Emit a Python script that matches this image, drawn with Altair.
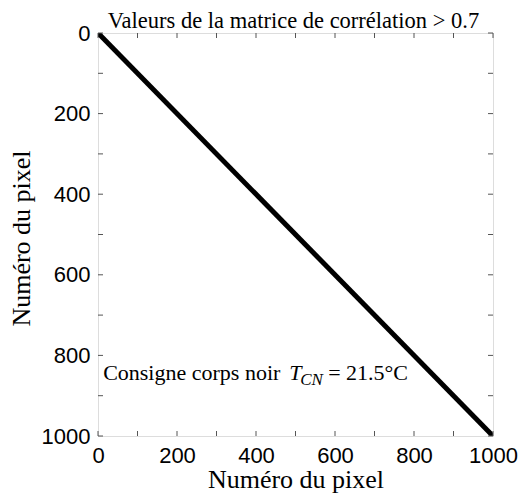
import altair as alt
import pandas as pd

# data
line_x = [0, 1000]
line_y = [0, 1000]
tick_values = [0, 100, 200, 300, 400, 500, 600, 700, 800, 900, 1000]
label_values = [0, 200, 400, 600, 800, 1000]
title_text = "Valeurs de la matrice de corrélation > 0.7"
axis_title = "Numéro du pixel"
ann_main = "Consigne corps noir"
ann_T = "T"
ann_sub = "CN"
ann_rest = "= 21.5°C"
ann_x = 13
ann_y = 862

W, H = 395, 403
SERIF = "Liberation Serif"
SANS = "Liberation Sans"

line_df = pd.DataFrame({"x": line_x, "y": line_y})
tick_df = pd.DataFrame({"v": tick_values})
ann_df = pd.DataFrame({"x": [ann_x], "y": [ann_y]})
title_df = pd.DataFrame({"t": [title_text]})

xscale = alt.Scale(domain=[0, 1000], nice=False, zero=False)
yscale = alt.Scale(domain=[0, 1000], nice=False, zero=False, reverse=True)

xaxis = alt.Axis(values=label_values, format="d", title=axis_title, grid=False, ticks=False, tickSize=0,
                 domain=False, labelFont=SANS, labelFontSize=22, labelColor="black",
                 labelPadding=26, labelBaseline="alphabetic", labelFlush=False,
                 titleFont=SERIF, titleFontSize=26, titleFontWeight="normal", titleColor="black",
                 titleBaseline="alphabetic", titleY=51)
yaxis = alt.Axis(values=label_values, format="d", title=axis_title, grid=False, ticks=False, tickSize=0,
                 domain=False, labelFont=SANS, labelFontSize=22, labelColor="black",
                 labelPadding=8, labelFlush=False,
                 titleFont=SERIF, titleFontSize=26, titleFontWeight="normal", titleColor="black",
                 titleBaseline="alphabetic", titleX=-69, titleY=205, titleAngle=-90)

line = alt.Chart(line_df).mark_line(color="black", strokeWidth=5, clip=True).encode(
    x=alt.X("x:Q", scale=xscale, axis=xaxis),
    y=alt.Y("y:Q", scale=yscale, axis=yaxis),
)

tick_color = "#555555"
bottom_ticks = alt.Chart(tick_df).mark_rule(color=tick_color, strokeWidth=1).encode(
    x=alt.X("v:Q", scale=xscale), y=alt.value(H), y2=alt.value(H - 5))
top_ticks = alt.Chart(tick_df).mark_rule(color=tick_color, strokeWidth=1).encode(
    x=alt.X("v:Q", scale=xscale), y=alt.value(0), y2=alt.value(5))
left_ticks = alt.Chart(tick_df).mark_rule(color=tick_color, strokeWidth=1).encode(
    y=alt.Y("v:Q", scale=yscale), x=alt.value(0), x2=alt.value(5))
right_ticks = alt.Chart(tick_df).mark_rule(color=tick_color, strokeWidth=1).encode(
    y=alt.Y("v:Q", scale=yscale), x=alt.value(W), x2=alt.value(W - 5))

def ann(text, dx, dy, size, style):
    return alt.Chart(ann_df).mark_text(
        text=text, align="left", baseline="alphabetic", font=SERIF, fontSize=size,
        fontStyle=style, color="black", dx=dx, dy=dy
    ).encode(x=alt.X("x:Q", scale=xscale), y=alt.Y("y:Q", scale=yscale))

a1 = ann(ann_main, 0, 0, 22, "normal")
a2 = ann(ann_T, 186, 0, 22, "italic")
a3 = ann(ann_sub, 197, 5, 17, "italic")
a4 = ann(ann_rest, 225, 0, 22, "normal")

title_mark = alt.Chart(title_df).mark_text(
    align="center", baseline="alphabetic", font=SERIF, fontSize=22.5, color="black"
).encode(text="t:N", x=alt.value(W / 2 - 2), y=alt.value(-5))

chart = alt.layer(line, bottom_ticks, top_ticks, left_ticks, right_ticks,
                  a1, a2, a3, a4, title_mark).properties(
    width=W, height=H,
    autosize=alt.AutoSizeParams(type="none"),
    padding={"left": 90, "top": 25, "right": 30, "bottom": 70},
).configure_view(stroke="#444444", strokeWidth=1).configure(background="white")

chart.save("out.html", embed_options={"renderer": "svg", "actions": False})
